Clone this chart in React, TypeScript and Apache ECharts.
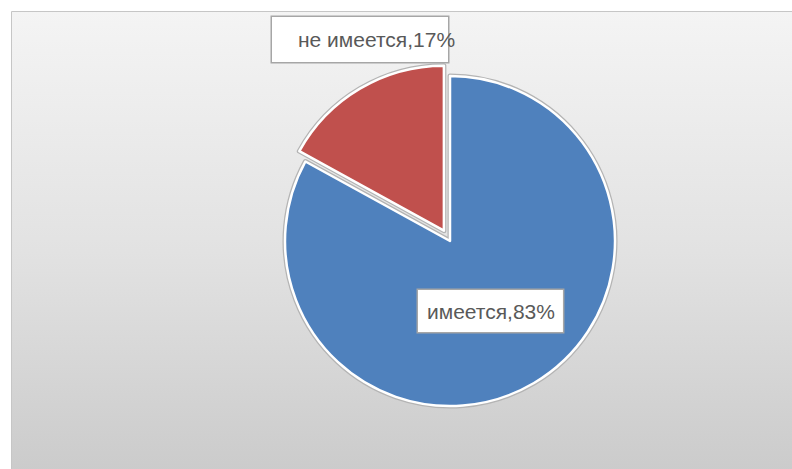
import React, { useEffect, useRef } from "react";
import * as echarts from "echarts";

const categories = ["имеется", "не имеется"];
const values = [83, 17];
const colors = ["#4f81bd", "#c0504d"];
const explodedIndex = 1;

export default function App() {
  const ref = useRef<HTMLDivElement>(null);
  useEffect(() => {
    if (!ref.current) return;
    const chart = echarts.init(ref.current, undefined, { renderer: "svg" });
    const cx = 450;
    const cy = 241;
    const explode = 12;
    const total = values.reduce((a, b) => a + b, 0);
    const before = values.slice(0, explodedIndex).reduce((a, b) => a + b, 0);
    // angles clockwise from 12 o'clock
    const midFrac = (before + values[explodedIndex] / 2) / total;
    const ang = midFrac * 2 * Math.PI;
    const dx = explode * Math.sin(ang);
    const dy = -explode * Math.cos(ang);

    const common = {
      type: "pie" as const,
      radius: 165,
      startAngle: 90,
      clockwise: true,
      percentPrecision: 0,
      animation: false,
      silent: true,
      emphasis: { disabled: true },
      labelLine: { show: false },
    };
    const mk = (show: number, borderColor: string, borderWidth: number) =>
      categories.map((name, i) => ({
        name,
        value: values[i],
        itemStyle:
          i === show
            ? { color: colors[i], borderColor, borderWidth }
            : { color: "rgba(0,0,0,0)", borderWidth: 0 },
        label: i === show ? undefined : { show: false },
      }));
    const labelBase = {
      show: true,
      position: "inside",
      formatter: "{b},{d}%",
      color: "#595959",
      fontSize: 21,
      fontFamily: "Liberation Sans",
      lineHeight: 24,
      backgroundColor: "#ffffff",
      borderColor: "#a6a6a6",
      borderWidth: 1.5,
    };
    chart.setOption({
      animation: false,
      graphic: [
        {
          type: "rect",
          z: -10,
          silent: true,
          shape: { x: 11.5, y: 11.5, width: 800, height: 480 },
          style: {
            fill: new echarts.graphic.LinearGradient(0, 0, 0, 1, [
              { offset: 0, color: "#f4f4f4" },
              { offset: 0.5, color: "#e2e2e2" },
              { offset: 1, color: "#c9c9c9" },
            ]),
            stroke: "#c6c6c6",
            lineWidth: 1,
          },
        },
      ],
      series: [
        { ...common, z: 1, center: [cx, cy], data: mk(0, "#b4b4b4", 5), label: { show: false } },
        { ...common, z: 1, center: [cx + dx, cy + dy], data: mk(1, "#b4b4b4", 5), label: { show: false } },
        {
          ...common,
          z: 2,
          center: [cx, cy],
          data: mk(0, "#ffffff", 2.5),
          label: { ...labelBase, padding: [9, 8, 9, 9] },
          labelLayout: () => ({ x: 418, y: 290, align: "left", verticalAlign: "top" }),
        },
        {
          ...common,
          z: 2,
          center: [cx + dx, cy + dy],
          data: mk(1, "#ffffff", 2.5),
          label: { ...labelBase, width: 150, overflow: "none", padding: [10, 0, 11, 26] },
          labelLayout: () => ({ x: 272, y: 17, align: "left", verticalAlign: "top" }),
        },
      ],
    });
    return () => chart.dispose();
  }, []);
  return (
    <div
      ref={ref}
      style={{ position: "fixed", left: 0, top: 0, width: 792, height: 469, background: "#ffffff" }}
    />
  );
}
